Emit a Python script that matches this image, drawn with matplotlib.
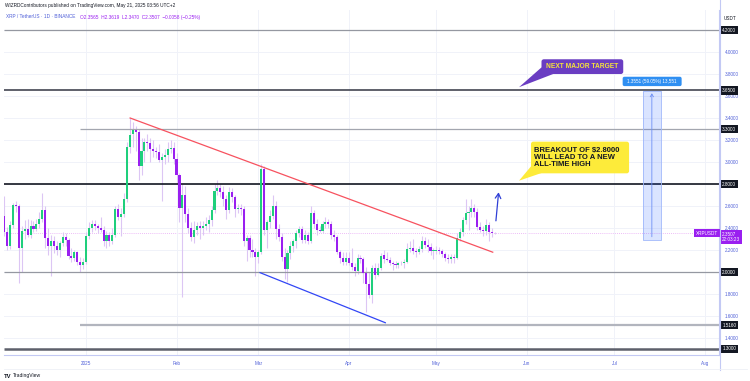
import matplotlib.pyplot as plt
import matplotlib.dates as mdates
import matplotlib.transforms as mtransforms
from matplotlib.patches import FancyBboxPatch, Polygon, Rectangle
import numpy as np
import pandas as pd

plt.rcParams['font.family'] = ['Liberation Sans', 'DejaVu Sans']

# XRP / TetherUS daily candles, 2024-12-04 .. 2025-05-21
dates = pd.date_range('2024-12-04', '2025-05-21', freq='D')

opens = [
    # Dec
    2.51, 2.36, 2.24, 2.43, 2.61, 2.60, 2.22, 2.37, 2.39, 2.34, 2.42, 2.39, 2.44, 2.48,
    2.56, 2.31, 2.24, 2.28, 2.24, 2.20, 2.26, 2.32, 2.29, 2.15, 2.13, 2.18, 2.09, 2.06,
    # Jan
    2.09, 2.33, 2.40, 2.44, 2.42, 2.40, 2.38, 2.28, 2.34, 2.28, 2.34, 2.57, 2.50, 2.53,
    2.66, 3.14, 3.25, 3.29, 3.27, 2.96, 3.10, 3.18, 3.17, 3.12, 3.10, 3.09, 3.02, 3.05,
    3.06, 3.12, 3.13,
    # Feb
    3.03, 2.88, 2.58, 2.70, 2.53, 2.40, 2.32, 2.38, 2.42, 2.40, 2.42, 2.44, 2.47, 2.56,
    2.74, 2.76, 2.73, 2.66, 2.56, 2.73, 2.68, 2.57, 2.58, 2.57, 2.28, 2.31, 2.20, 2.18,
    # Mar
    2.14, 2.18, 2.94, 2.38, 2.45, 2.51, 2.60, 2.39, 2.32, 2.14, 2.03, 2.17, 2.24, 2.28,
    2.35, 2.39, 2.29, 2.34, 2.28, 2.54, 2.44, 2.38, 2.37, 2.44, 2.45, 2.44, 2.34, 2.32,
    2.18, 2.13, 2.09,
    # Apr
    2.13, 2.08, 2.05, 2.01, 2.13, 2.12, 1.99, 1.89, 1.79, 2.04, 1.97, 2.04, 2.15, 2.12,
    2.11, 2.08, 2.07, 2.06, 2.08, 2.08, 2.09, 2.21, 2.22, 2.19, 2.18, 2.21, 2.28, 2.25,
    2.23, 2.19,
    # May
    2.19, 2.20, 2.19, 2.16, 2.13, 2.12, 2.14, 2.13, 2.31, 2.36, 2.47, 2.54, 2.55, 2.58,
    2.55, 2.41, 2.38, 2.37, 2.43, 2.36, 2.3565,
]
highs = [
    2.69, 2.41, 2.46, 2.63, 2.65, 2.62, 2.42, 2.47, 2.48, 2.47, 2.46, 2.48, 2.55, 2.72,
    2.60, 2.40, 2.34, 2.33, 2.28, 2.28, 2.36, 2.35, 2.31, 2.22, 2.20, 2.19, 2.14, 2.13,
    2.36, 2.45, 2.47, 2.47, 2.44, 2.50, 2.42, 2.37, 2.36, 2.40, 2.60, 2.62, 2.58, 2.72,
    3.18, 3.40, 3.36, 3.33, 3.30, 3.22, 3.22, 3.25, 3.22, 3.20, 3.14, 3.16, 3.08, 3.12,
    3.18, 3.20, 3.18,
    3.08, 2.90, 2.80, 2.78, 2.58, 2.45, 2.46, 2.45, 2.46, 2.46, 2.50, 2.52, 2.60, 2.80,
    2.84, 2.80, 2.78, 2.70, 2.77, 2.76, 2.70, 2.62, 2.62, 2.60, 2.34, 2.34, 2.30, 2.22,
    2.20, 2.98, 2.96, 2.47, 2.56, 2.70, 2.65, 2.44, 2.35, 2.22, 2.20, 2.28, 2.30, 2.38,
    2.42, 2.42, 2.38, 2.36, 2.60, 2.56, 2.48, 2.42, 2.46, 2.50, 2.48, 2.46, 2.38, 2.34,
    2.20, 2.18, 2.18,
    2.18, 2.22, 2.08, 2.16, 2.15, 2.14, 2.05, 2.00, 2.06, 2.08, 2.08, 2.17, 2.20, 2.18,
    2.14, 2.10, 2.10, 2.09, 2.10, 2.12, 2.26, 2.28, 2.30, 2.22, 2.24, 2.33, 2.32, 2.30,
    2.26, 2.22,
    2.24, 2.23, 2.21, 2.18, 2.16, 2.16, 2.16, 2.35, 2.40, 2.50, 2.66, 2.60, 2.66, 2.62,
    2.58, 2.45, 2.42, 2.48, 2.45, 2.40, 2.3619,
]
lows = [
    2.33, 2.20, 2.21, 2.40, 2.55, 1.90, 2.00, 2.30, 2.32, 2.31, 2.36, 2.37, 2.40, 2.45,
    2.22, 2.15, 1.96, 2.17, 2.15, 2.14, 2.24, 2.24, 2.12, 2.09, 2.10, 2.06, 2.00, 2.03,
    2.07, 2.30, 2.36, 2.38, 2.35, 2.36, 2.24, 2.22, 2.24, 2.25, 2.32, 2.47, 2.33, 2.50,
    2.64, 3.08, 3.14, 3.10, 2.84, 2.88, 3.00, 3.10, 3.00, 3.05, 3.04, 3.00, 2.65, 2.98,
    3.00, 3.08, 2.98,
    2.80, 2.45, 1.77, 2.45, 2.35, 2.28, 2.26, 2.34, 2.30, 2.34, 2.38, 2.36, 2.42, 2.54,
    2.70, 2.68, 2.60, 2.48, 2.54, 2.64, 2.50, 2.54, 2.52, 2.24, 2.10, 2.14, 2.14, 1.96,
    2.08, 2.16, 2.34, 2.22, 2.40, 2.48, 2.30, 2.28, 2.10, 1.94, 1.91, 2.12, 2.18, 2.22,
    2.32, 2.26, 2.26, 2.25, 2.26, 2.40, 2.34, 2.36, 2.35, 2.40, 2.40, 2.30, 2.28, 2.16,
    2.08, 2.06, 2.06,
    2.06, 2.02, 1.96, 1.98, 2.08, 1.90, 1.64, 1.76, 1.72, 1.94, 1.96, 2.02, 2.08, 2.10,
    2.06, 2.02, 2.04, 2.04, 2.06, 2.04, 2.08, 2.18, 2.16, 2.14, 2.16, 2.18, 2.22, 2.18,
    2.15, 2.12,
    2.16, 2.16, 2.14, 2.10, 2.08, 2.08, 2.08, 2.12, 2.28, 2.33, 2.44, 2.38, 2.50, 2.50,
    2.38, 2.36, 2.33, 2.34, 2.28, 2.32, 2.3470,
]
closes = [
    2.36, 2.24, 2.43, 2.61, 2.60, 2.22, 2.37, 2.39, 2.34, 2.42, 2.39, 2.44, 2.48, 2.56,
    2.31, 2.24, 2.28, 2.24, 2.20, 2.26, 2.32, 2.29, 2.15, 2.13, 2.18, 2.09, 2.06, 2.09,
    2.33, 2.40, 2.44, 2.42, 2.40, 2.38, 2.28, 2.34, 2.28, 2.34, 2.57, 2.50, 2.53, 2.66,
    3.14, 3.25, 3.29, 3.27, 2.96, 3.10, 3.18, 3.17, 3.12, 3.10, 3.09, 3.02, 3.05, 3.06,
    3.12, 3.13, 3.03,
    2.88, 2.58, 2.70, 2.53, 2.40, 2.32, 2.38, 2.42, 2.40, 2.42, 2.44, 2.47, 2.56, 2.74,
    2.76, 2.73, 2.66, 2.56, 2.73, 2.68, 2.57, 2.58, 2.57, 2.28, 2.31, 2.20, 2.18, 2.14,
    2.18, 2.94, 2.38, 2.45, 2.51, 2.60, 2.39, 2.32, 2.14, 2.03, 2.17, 2.24, 2.28, 2.35,
    2.39, 2.29, 2.34, 2.28, 2.54, 2.44, 2.38, 2.37, 2.44, 2.45, 2.44, 2.34, 2.32, 2.18,
    2.13, 2.09, 2.13,
    2.08, 2.05, 2.01, 2.13, 2.12, 1.99, 1.89, 1.79, 2.04, 1.97, 2.04, 2.15, 2.12, 2.11,
    2.08, 2.07, 2.06, 2.08, 2.08, 2.09, 2.21, 2.22, 2.19, 2.18, 2.21, 2.28, 2.25, 2.23,
    2.19, 2.19,
    2.20, 2.19, 2.16, 2.13, 2.12, 2.14, 2.13, 2.31, 2.36, 2.47, 2.54, 2.55, 2.58, 2.55,
    2.41, 2.38, 2.37, 2.43, 2.36, 2.3565, 2.3507,
]

# horizontal levels drawn on the chart
levels = [4.2, 3.65, 3.3, 2.8, 2.0, 1.516, 1.3]
level_labels = ['4.2000', '3.6500', '3.3000', '2.8000', '2.0000', '1.5160', '1.3000']
level_colors = ['#9598a1', '#434651', '#a3a6af', '#131722', '#9598a1', '#b2b5be', '#5d606b']
level_widths = [0.9, 1.2, 0.9, 1.2, 0.9, 1.6, 1.8]
level_from = [None, None, '2024-12-30', None, None, '2024-12-30', None]

price_ticks = [1.4, 1.6, 1.8, 2.0, 2.2, 2.4, 2.6, 2.8, 3.0, 3.2, 3.4, 3.6, 3.8, 4.0, 4.2]
month_ticks = ['2025-01-01', '2025-02-01', '2025-03-01', '2025-04-01', '2025-05-01',
               '2025-06-01', '2025-07-01', '2025-08-01']
month_labels = ['2025', 'Feb', 'Mar', 'Apr', 'May', 'Jun', 'Jul', 'Aug']

last_price = 2.3507
measure_low, measure_high = 2.2949, 3.65

GREEN = '#1fcf7c'
PURPLE = '#9a1ff0'
WICK = '#dcc6f4'
AXIS_TXT = '#4f5fd8'

fig = plt.figure(figsize=(7.5, 3.81), dpi=100)
fig.patch.set_facecolor('white')
W, H = 750, 381
ax = fig.add_axes([4 / W, (H - 355) / H, 715 / W, (355 - 10) / H])

jan1 = mdates.date2num(pd.Timestamp('2025-01-01'))
def day(n):
    return jan1 + n

ax.set_xlim(day(-28.1), day(216.8))
ax.set_ylim(2 - 83 / 110, 2 + 262 / 110)

# grid
ax.set_yticks(price_ticks)
ax.set_xticks([mdates.date2num(pd.Timestamp(m)) for m in month_ticks])
ax.grid(True, color='#f0f2f9', lw=0.7, zorder=0)

# candles
x = mdates.date2num(dates)
o = np.array(opens); h = np.array(highs); l = np.array(lows); c = np.array(closes)
up = c >= o
ax.vlines(x, l, h, color=WICK, lw=0.8, zorder=2)
body_bottom = np.minimum(o, c)
body_height = np.maximum(np.abs(c - o), 0.006)
ax.bar(x, body_height, bottom=body_bottom, width=0.72,
       color=np.where(up, GREEN, PURPLE), linewidth=0, zorder=3)

# last price dotted line
ax.axhline(last_price, color='#e7a6f5', lw=0.6, ls=(0, (1, 1.5)), zorder=1)

# levels
for lv, col, lw, start in zip(levels, level_colors, level_widths, level_from):
    xmin = ax.get_xlim()[0] if start is None else mdates.date2num(pd.Timestamp(start))
    ax.hlines(lv, xmin, ax.get_xlim()[1], color=col, lw=lw, zorder=2)

# trend lines
ax.plot([day(15.1), day(139.3)], [3.40, 2.18], color='#f7525f', lw=0.9, zorder=4)
ax.plot([day(59.6), day(102.5)], [1.994, 1.539], color='#3246f5', lw=0.9, zorder=4)
ax.annotate('', xy=(day(141.4), 2.75), xytext=(day(140.3), 2.44),
            arrowprops=dict(arrowstyle='->,head_length=0.35,head_width=0.2',
                            color='#2f3fd6', lw=0.9), zorder=5)

ASPECT = 2.92 / 110

# measurement box
ax.add_patch(Rectangle((day(190.8), measure_low), 6.0, measure_high - measure_low,
                       facecolor='#2962ff', alpha=0.17, edgecolor='none', zorder=2))
ax.add_patch(Rectangle((day(190.8), measure_low), 6.0, measure_high - measure_low,
                       facecolor='none', edgecolor='#9fb7fb', lw=0.6, zorder=2))
ax.annotate('', xy=(day(193.8), measure_high), xytext=(day(193.8), measure_low),
            arrowprops=dict(arrowstyle='->,head_length=0.2,head_width=0.12',
                            color='#6d8ff5', lw=0.6), zorder=3)
ax.add_patch(FancyBboxPatch((day(183.8), 3.69), 20.2, 0.085,
                            boxstyle='round,pad=0,rounding_size=0.6',
                            mutation_aspect=ASPECT, facecolor='#2f8ff2',
                            edgecolor='none', zorder=6, clip_on=False))
ax.text(day(193.9), 3.733, '1.3551 (59.05%) 13,551', color='white', fontsize=3.3,
        ha='center', va='center', zorder=7)

# yellow callout
ax.add_patch(Polygon([(day(152.4), 2.96), (day(156.0), 2.90), (day(148.3), 2.83)],
                     closed=True, facecolor='#fdeb3a', edgecolor='none', zorder=6))
ax.add_patch(FancyBboxPatch((day(152.4), 2.897), 33.6, 0.288,
                            boxstyle='round,pad=0,rounding_size=0.8',
                            mutation_aspect=ASPECT, facecolor='#fdeb3a',
                            edgecolor='none', zorder=6))
ax.text(day(153.5), 3.042, 'BREAKOUT OF $2.8000\nWILL LEAD TO A NEW\nALL-TIME HIGH',
        fontsize=5.5, fontweight='bold', color='#131722', ha='left', va='center',
        linespacing=1.05, zorder=7)

# purple callout
ax.add_patch(Polygon([(day(156.0), 3.86), (day(160.0), 3.80), (day(148.3), 3.68)],
                     closed=True, facecolor='#6a3dc2', edgecolor='none', zorder=6))
ax.add_patch(FancyBboxPatch((day(156.0), 3.80), 28.0, 0.134,
                            boxstyle='round,pad=0,rounding_size=0.8',
                            mutation_aspect=ASPECT, facecolor='#6a3dc2',
                            edgecolor='none', zorder=6))
ax.text(day(170.0), 3.867, 'NEXT MAJOR TARGET', fontsize=4.8, fontweight='bold',
        color='#f6e43a', ha='center', va='center', zorder=7)

# axes styling
for s in ['top', 'left']:
    ax.spines[s].set_visible(False)
ax.spines['bottom'].set_color('#c3c9f4')
ax.spines['right'].set_color('#c3c9f4')
ax.spines['bottom'].set_linewidth(0.8)
ax.spines['right'].set_linewidth(0.8)
ax.yaxis.tick_right()
covered = {2.0, 2.8, 4.2}
ax.set_yticklabels(['' if t in covered else f'{t:.4f}' for t in price_ticks])
ax.set_xticklabels(month_labels)
ax.tick_params(axis='both', length=0, labelsize=3.3, labelcolor=AXIS_TXT)
ax.tick_params(axis='y', pad=4)
ax.tick_params(axis='x', pad=4)

ytr = ax.get_yaxis_transform()
for lv, lab in zip(levels, level_labels):
    ax.text(1.0045, lv, lab, transform=ytr, fontsize=3.3, color='white', ha='left',
            va='center', zorder=8, clip_on=False,
            bbox=dict(boxstyle='square,pad=0.35', fc='#131722', ec='none'))

ax.text(1.0045, last_price - 0.03, '2.3507\n22:03:23', transform=ytr, fontsize=3.3,
        color='white', ha='left', va='center', linespacing=1.1, zorder=8, clip_on=False,
        bbox=dict(boxstyle='square,pad=0.35', fc='#9a1ff0', ec='none'))
ax.text(0.9985, last_price + 0.003, 'XRPUSDT', transform=ytr, fontsize=3.3, color='white',
        ha='right', va='center', zorder=8, clip_on=False,
        bbox=dict(boxstyle='square,pad=0.35', fc='#9a1ff0', ec='none'))

# frame pieces outside the plot
fig.add_artist(plt.Line2D([719.5 / W, 719.5 / W], [1 - 370 / H, 1], color='#c3c9f4',
                          lw=0.8))
fig.add_artist(plt.Line2D([4 / W, 747 / W], [1 - 369 / H, 1 - 369 / H], color='#eef0f6',
                          lw=0.6))
fig.text(730 / W, 1 - 18 / H, 'USDT', fontsize=3.3, color='#131722', ha='center',
         va='center')

# header
fig.text(5 / W, 1 - 6 / H,
         'WIZRDContributors published on TradingView.com, May 21, 2025 03:56 UTC+2',
         fontsize=3.4, color='#131722', ha='left', va='center')
fig.text(6 / W, 1 - 17 / H, 'XRP / TetherUS \u00b7 1D \u00b7 BINANCE', fontsize=3.4,
         color='#4f5fd8', ha='left', va='center')
fig.text(80 / W, 1 - 17 / H,
         'O2.3565  H2.3619  L2.3470  C2.3507  \u22120.0058 (\u22120.25%)',
         fontsize=3.4, color='#9a1ff0', ha='left', va='center')

# footer logo
fig.text(4 / W, 1 - 376 / H, 'TV', fontsize=4.2, fontweight='bold', color='#131722',
         ha='left', va='center')
fig.text(13 / W, 1 - 376 / H, 'TradingView', fontsize=3.6, color='#131722',
         ha='left', va='center')

fig.savefig('out.png', dpi=100)
